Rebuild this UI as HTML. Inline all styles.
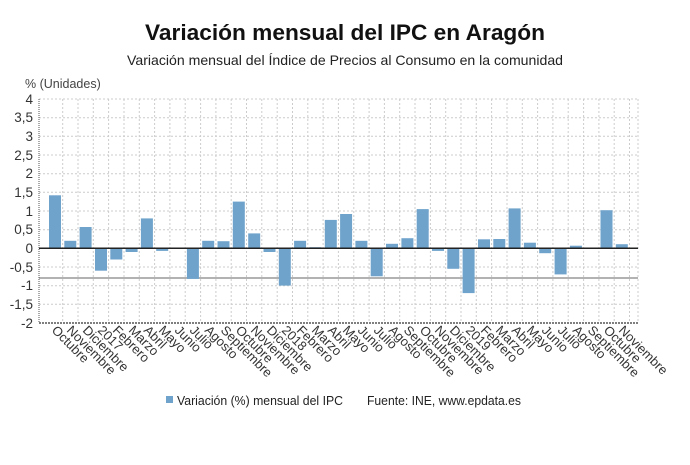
<!DOCTYPE html>
<html><head><meta charset="utf-8"><style>
body{margin:0;background:#fff;}
svg{display:block;font-family:"Liberation Sans",sans-serif;}
</style></head><body>
<svg width="690" height="465" viewBox="0 0 690 465" xmlns="http://www.w3.org/2000/svg">
<text x="345" y="40" text-anchor="middle" font-size="22" font-weight="bold" fill="#111" textLength="400" lengthAdjust="spacingAndGlyphs">Variación mensual del IPC en Aragón</text>
<text x="345" y="65" text-anchor="middle" font-size="14" fill="#222" textLength="436" lengthAdjust="spacingAndGlyphs">Variación mensual del Índice de Precios al Consumo en la comunidad</text>
<text x="25" y="88" font-size="12.5" fill="#444">% (Unidades)</text>
<g stroke="#ccc" stroke-width="1" stroke-dasharray="2,2">
<line x1="39" x2="638" y1="99" y2="99"/><line x1="39" x2="638" y1="117.7" y2="117.7"/><line x1="39" x2="638" y1="136.3" y2="136.3"/><line x1="39" x2="638" y1="155" y2="155"/><line x1="39" x2="638" y1="173.7" y2="173.7"/><line x1="39" x2="638" y1="192.3" y2="192.3"/><line x1="39" x2="638" y1="211" y2="211"/><line x1="39" x2="638" y1="229.7" y2="229.7"/><line x1="39" x2="638" y1="267" y2="267"/><line x1="39" x2="638" y1="285.7" y2="285.7"/><line x1="39" x2="638" y1="304.3" y2="304.3"/>
</g>
<g stroke="#ccc" stroke-width="1" stroke-dasharray="2,2">
<line x1="62.7" x2="62.7" y1="99" y2="323"/><line x1="78" x2="78" y1="99" y2="323"/><line x1="93.3" x2="93.3" y1="99" y2="323"/><line x1="108.6" x2="108.6" y1="99" y2="323"/><line x1="124" x2="124" y1="99" y2="323"/><line x1="139.3" x2="139.3" y1="99" y2="323"/><line x1="154.6" x2="154.6" y1="99" y2="323"/><line x1="169.9" x2="169.9" y1="99" y2="323"/><line x1="185.2" x2="185.2" y1="99" y2="323"/><line x1="200.6" x2="200.6" y1="99" y2="323"/><line x1="215.9" x2="215.9" y1="99" y2="323"/><line x1="231.2" x2="231.2" y1="99" y2="323"/><line x1="246.5" x2="246.5" y1="99" y2="323"/><line x1="261.8" x2="261.8" y1="99" y2="323"/><line x1="277.2" x2="277.2" y1="99" y2="323"/><line x1="292.5" x2="292.5" y1="99" y2="323"/><line x1="307.8" x2="307.8" y1="99" y2="323"/><line x1="323.1" x2="323.1" y1="99" y2="323"/><line x1="338.4" x2="338.4" y1="99" y2="323"/><line x1="353.8" x2="353.8" y1="99" y2="323"/><line x1="369.1" x2="369.1" y1="99" y2="323"/><line x1="384.4" x2="384.4" y1="99" y2="323"/><line x1="399.7" x2="399.7" y1="99" y2="323"/><line x1="415" x2="415" y1="99" y2="323"/><line x1="430.4" x2="430.4" y1="99" y2="323"/><line x1="445.7" x2="445.7" y1="99" y2="323"/><line x1="461" x2="461" y1="99" y2="323"/><line x1="476.3" x2="476.3" y1="99" y2="323"/><line x1="491.6" x2="491.6" y1="99" y2="323"/><line x1="507" x2="507" y1="99" y2="323"/><line x1="522.3" x2="522.3" y1="99" y2="323"/><line x1="537.6" x2="537.6" y1="99" y2="323"/><line x1="552.9" x2="552.9" y1="99" y2="323"/><line x1="568.2" x2="568.2" y1="99" y2="323"/><line x1="583.6" x2="583.6" y1="99" y2="323"/><line x1="598.9" x2="598.9" y1="99" y2="323"/><line x1="614.2" x2="614.2" y1="99" y2="323"/><line x1="629.5" x2="629.5" y1="99" y2="323"/><line x1="638" x2="638" y1="99" y2="323"/>
</g>
<line x1="39" x2="638" y1="278" y2="278" stroke="#999" stroke-width="1.5"/>
<g fill="#6fa3cc">
<rect x="49" y="195.3" width="12" height="53"/>
<rect x="64.3" y="240.8" width="12" height="7.5"/>
<rect x="79.6" y="227" width="12" height="21.3"/>
<rect x="95" y="248.3" width="12" height="22.4"/>
<rect x="110.3" y="248.3" width="12" height="11.2"/>
<rect x="125.6" y="248.3" width="12" height="3.7"/>
<rect x="140.9" y="218.4" width="12" height="29.9"/>
<rect x="156.2" y="248.3" width="12" height="2.6"/>
<rect x="171.6" y="247.6" width="12" height="0.7"/>
<rect x="186.9" y="248.3" width="12" height="30.6"/>
<rect x="202.2" y="240.8" width="12" height="7.5"/>
<rect x="217.5" y="241.2" width="12" height="7.1"/>
<rect x="232.8" y="201.6" width="12" height="46.7"/>
<rect x="248.2" y="233.4" width="12" height="14.9"/>
<rect x="263.5" y="248.3" width="12" height="3.7"/>
<rect x="278.8" y="248.3" width="12" height="37.3"/>
<rect x="294.1" y="240.8" width="12" height="7.5"/>
<rect x="309.4" y="247.2" width="12" height="1.1"/>
<rect x="324.8" y="219.9" width="12" height="28.4"/>
<rect x="340.1" y="214" width="12" height="34.3"/>
<rect x="355.4" y="240.8" width="12" height="7.5"/>
<rect x="370.7" y="248.3" width="12" height="28"/>
<rect x="386" y="243.8" width="12" height="4.5"/>
<rect x="401.4" y="238.2" width="12" height="10.1"/>
<rect x="416.7" y="209.1" width="12" height="39.2"/>
<rect x="432" y="248.3" width="12" height="2.6"/>
<rect x="447.3" y="248.3" width="12" height="20.5"/>
<rect x="462.6" y="248.3" width="12" height="44.8"/>
<rect x="478" y="239.3" width="12" height="9"/>
<rect x="493.3" y="239" width="12" height="9.3"/>
<rect x="508.6" y="208.4" width="12" height="39.9"/>
<rect x="523.9" y="242.7" width="12" height="5.6"/>
<rect x="539.2" y="248.3" width="12" height="4.9"/>
<rect x="554.6" y="248.3" width="12" height="26.1"/>
<rect x="569.9" y="245.7" width="12" height="2.6"/>
<rect x="585.2" y="248.3" width="12" height="0.7"/>
<rect x="600.5" y="210.2" width="12" height="38.1"/>
<rect x="615.8" y="244.2" width="12" height="4.1"/>
</g>
<line x1="39" x2="638" y1="248.3" y2="248.3" stroke="#222" stroke-width="1.5"/>
<line x1="39" x2="39" y1="99" y2="323" stroke="#555" stroke-width="1" stroke-dasharray="1,1"/>
<line x1="39" x2="638" y1="323" y2="323" stroke="#555" stroke-width="1.5" stroke-dasharray="2,1"/>
<g font-size="13.5" fill="#333" text-anchor="end">
<text x="33" y="104">4</text><text x="33" y="122">3,5</text><text x="33" y="141">3</text><text x="33" y="160">2,5</text><text x="33" y="178">2</text><text x="33" y="197">1,5</text><text x="33" y="216">1</text><text x="33" y="234">0,5</text><text x="33" y="253">0</text><text x="33" y="272">-0,5</text><text x="33" y="290">-1</text><text x="33" y="309">-1,5</text><text x="33" y="328">-2</text>
</g>
<g font-size="13" fill="#333">
<text transform="translate(51,331) rotate(45)">Octubre</text>
<text transform="translate(66,331) rotate(45)">Noviembre</text>
<text transform="translate(82,331) rotate(45)">Diciembre</text>
<text transform="translate(97,331) rotate(45)">2017</text>
<text transform="translate(112,331) rotate(45)">Febrero</text>
<text transform="translate(128,331) rotate(45)">Marzo</text>
<text transform="translate(143,331) rotate(45)">Abril</text>
<text transform="translate(158,331) rotate(45)">Mayo</text>
<text transform="translate(174,331) rotate(45)">Junio</text>
<text transform="translate(189,331) rotate(45)">Julio</text>
<text transform="translate(204,331) rotate(45)">Agosto</text>
<text transform="translate(220,331) rotate(45)">Septiembre</text>
<text transform="translate(235,331) rotate(45)">Octubre</text>
<text transform="translate(250,331) rotate(45)">Noviembre</text>
<text transform="translate(266,331) rotate(45)">Diciembre</text>
<text transform="translate(281,331) rotate(45)">2018</text>
<text transform="translate(296,331) rotate(45)">Febrero</text>
<text transform="translate(311,331) rotate(45)">Marzo</text>
<text transform="translate(327,331) rotate(45)">Abril</text>
<text transform="translate(342,331) rotate(45)">Mayo</text>
<text transform="translate(357,331) rotate(45)">Junio</text>
<text transform="translate(373,331) rotate(45)">Julio</text>
<text transform="translate(388,331) rotate(45)">Agosto</text>
<text transform="translate(403,331) rotate(45)">Septiembre</text>
<text transform="translate(419,331) rotate(45)">Octubre</text>
<text transform="translate(434,331) rotate(45)">Noviembre</text>
<text transform="translate(449,331) rotate(45)">Diciembre</text>
<text transform="translate(465,331) rotate(45)">2019</text>
<text transform="translate(480,331) rotate(45)">Febrero</text>
<text transform="translate(495,331) rotate(45)">Marzo</text>
<text transform="translate(511,331) rotate(45)">Abril</text>
<text transform="translate(526,331) rotate(45)">Mayo</text>
<text transform="translate(541,331) rotate(45)">Junio</text>
<text transform="translate(557,331) rotate(45)">Julio</text>
<text transform="translate(572,331) rotate(45)">Agosto</text>
<text transform="translate(587,331) rotate(45)">Septiembre</text>
<text transform="translate(603,331) rotate(45)">Octubre</text>
<text transform="translate(618,331) rotate(45)">Noviembre</text>
</g>
<rect x="166" y="396" width="7" height="7" fill="#6fa3cc"/>
<text x="177" y="405" font-size="12.5" fill="#222" textLength="166" lengthAdjust="spacingAndGlyphs">Variación (%) mensual del IPC</text>
<text x="367" y="405" font-size="12.5" fill="#222" textLength="154" lengthAdjust="spacingAndGlyphs">Fuente: INE, www.epdata.es</text>
</svg>
</body></html>
